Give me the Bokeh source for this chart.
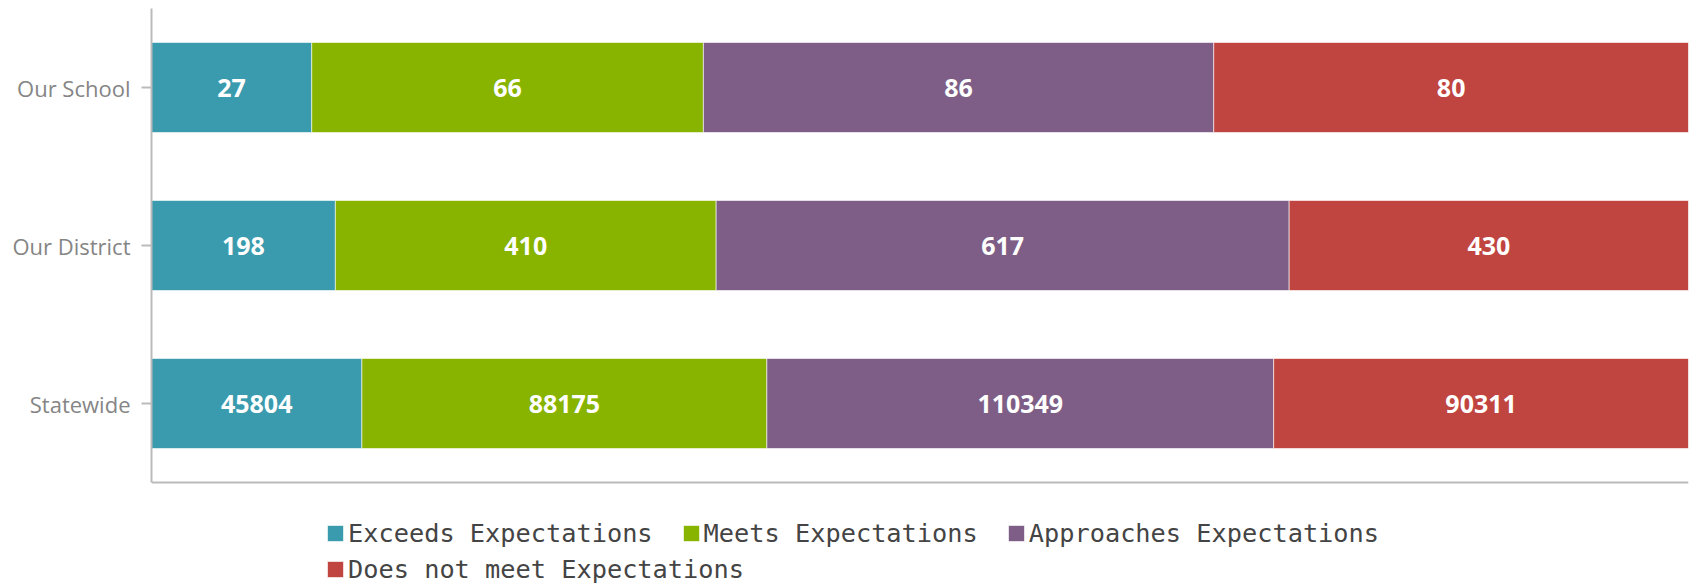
from bokeh.plotting import figure
from bokeh.models import ColumnDataSource, Range1d, Legend, LegendItem, FixedTicker
from bokeh.core.properties import value
from bokeh.embed import file_html
from bokeh.resources import INLINE

categories = ["Our School", "Our District", "Statewide"]
exceeds = [27, 198, 45804]
meets = [66, 410, 88175]
approaches = [86, 617, 110349]
not_meet = [80, 430, 90311]
series_names = ["Exceeds Expectations", "Meets Expectations",
                "Approaches Expectations", "Does not meet Expectations"]
colors = ["#3A9BAE", "#88B400", "#7E5E86", "#C0443F"]

series = [exceeds, meets, approaches, not_meet]
keys = ["exceeds", "meets", "approaches", "not_meet"]
n = len(categories)
ypos = [n - 1 - i for i in range(n)]          # top category drawn highest
totals = [sum(v) for v in zip(*series)]
data = {"y": ypos}
for k, s in zip(keys, series):
    data[k] = [v / t for v, t in zip(s, totals)]
source = ColumnDataSource(data)

# frame: 8px top to bottom of page; one category slot = 158px
slot = 158.0
frame_h = 584 - 8
y_top = n - 0.5
y_bottom = y_top - frame_h / slot

p = figure(width=1692, height=584,
           y_range=Range1d(y_bottom, y_top),
           x_range=Range1d(0, 1),
           output_backend="svg", toolbar_location=None,
           min_border_left=151, min_border_right=4,
           min_border_top=8, min_border_bottom=0)

renderers = p.hbar_stack(keys, y="y", height=0.57, fill_color=colors,
                         line_color="white", line_width=1, line_alpha=0.6,
                         source=source)

lab_x, lab_y, lab_t = [], [], []
for i in range(n):
    cum = 0.0
    for k, s in zip(keys, series):
        w = data[k][i]
        lab_x.append(cum + w / 2)
        lab_y.append(ypos[i])
        lab_t.append(str(s[i]))
        cum += w
p.text(x="x", y="y", text="t",
       source=ColumnDataSource(dict(x=lab_x, y=lab_y, t=lab_t)),
       text_align="center", text_baseline="middle", text_color="white",
       text_font=value("Open Sans"), text_font_style="bold",
       text_font_size="25px")

p.xgrid.visible = False
p.ygrid.visible = False
p.outline_line_color = None

p.xaxis.fixed_location = -0.5
p.xaxis.ticker = FixedTicker(ticks=[])
p.xaxis.major_label_text_font_size = "0px"
p.xaxis.axis_line_color = "#bbbbbb"
p.xaxis.axis_line_width = 2
p.xaxis.major_tick_line_color = None
p.xaxis.minor_tick_line_color = None

p.yaxis.bounds = (-0.5, y_top)
p.yaxis.ticker = FixedTicker(ticks=ypos)
p.yaxis.major_label_overrides = {y: c for y, c in zip(ypos, categories)}
p.yaxis.axis_line_color = "#bbbbbb"
p.yaxis.axis_line_width = 2
p.yaxis.major_tick_line_color = "#bbbbbb"
p.yaxis.major_tick_line_width = 2
p.yaxis.minor_tick_line_color = None
p.yaxis.major_tick_out = 10
p.yaxis.major_tick_in = 0
p.yaxis.major_label_standoff = 11
p.yaxis.major_label_text_font = "Open Sans"
p.yaxis.major_label_text_font_size = "22px"
p.yaxis.major_label_text_color = "#858585"

items = [LegendItem(label=nm, renderers=[r]) for nm, r in zip(series_names, renderers)]

def make_legend(its, loc):
    return Legend(items=its, location=loc, orientation="horizontal",
                  label_text_font="DejaVu Sans Mono", label_text_font_size="25.3px",
                  label_text_color="#444444", glyph_width=20, glyph_height=20,
                  label_standoff=3, spacing=28, padding=0, margin=0,
                  label_height=30, border_line_color=None,
                  background_fill_alpha=0)

p.add_layout(make_legend(items[:3], (174, 36)))
p.add_layout(make_legend(items[3:], (174, 0)))

open("out.html", "w").write(file_html(p, INLINE))
